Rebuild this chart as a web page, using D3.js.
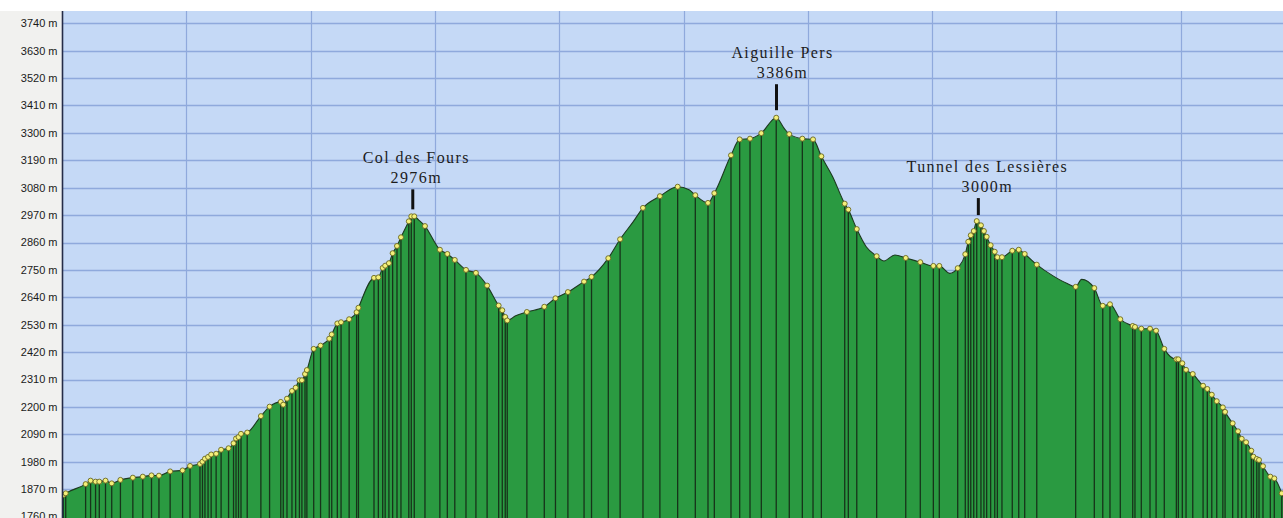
<!DOCTYPE html>
<html>
<head>
<meta charset="utf-8">
<script src="https://cdn.jsdelivr.net/npm/d3@7"></script>
<style>
  html, body { margin: 0; padding: 0; background: #ffffff; }
  svg { display: block; }
</style>
</head>
<body>
<div id="chart"></div>
<script>
// ---- DATA ----
// Waypoints (distance in km, elevation in m) – each one gets a marker and a drop line
const markerDist = [0.01,0.03,0.19,0.23,0.27,0.30,0.35,0.40,0.47,0.57,0.65,0.72,0.78,0.87,0.97,
  1.03,1.11,1.13,1.15,1.175,1.20,1.24,1.28,1.34,1.38,1.40,1.42,1.44,1.49,1.60,1.67,1.76,1.78,1.81,
  1.85,1.88,1.91,1.93,1.955,1.97,2.025,2.08,2.15,2.17,2.215,2.245,2.31,2.37,2.385,2.51,2.545,2.58,
  2.60,2.63,2.66,2.695,2.727,2.79,2.81,2.834,2.92,3.04,3.10,3.16,3.25,3.33,3.42,3.513,3.542,3.566,
  3.582,3.74,3.88,3.97,4.07,4.20,4.26,4.395,4.49,4.674,4.81,4.953,5.095,5.197,5.248,5.382,5.452,
  5.535,5.626,5.746,5.851,5.956,6.042,6.109,6.297,6.326,6.394,6.554,6.788,6.905,7.010,7.058,7.206,
  7.267,7.291,7.311,7.335,7.359,7.393,7.417,7.439,7.471,7.504,7.525,7.562,7.645,7.697,7.745,7.842,
  8.155,8.305,8.373,8.431,8.514,8.614,8.632,8.683,8.753,8.802,8.868,8.965,8.981,9.013,9.043,9.097,
  9.180,9.214,9.250,9.290,9.339,9.357,9.418,9.461,9.491,9.526,9.568,9.585,9.612,9.630,9.662,9.721,
  9.753,9.813];
const markerElev = [1846,1853,1890,1904,1900,1900,1904,1893,1907,1916,1920,1925,1924,1941,1945,
  1963,1971,1980,1992,1999,2009,2012,2028,2034,2054,2073,2079,2092,2097,2163,2201,2220,2209,2233,
  2264,2277,2307,2307,2332,2348,2433,2446,2474,2491,2535,2540,2552,2580,2598,2718,2720,2758,
  2767,2777,2817,2846,2881,2945,2965,2965,2926,2831,2814,2790,2750,2738,2687,2607,2588,2561,
  2547,2581,2602,2636,2661,2703,2722,2797,2873,2999,3046,3084,3050,3019,3058,3210,3274,
  3277,3299,3361,3295,3277,3274,3206,3016,2992,2914,2805,2798,2781,2766,2766,2757,
  2813,2863,2889,2906,2946,2929,2906,2883,2849,2823,2801,2801,2827,2831,2814,2771,
  2682,2677,2606,2612,2552,2525,2521,2514,2514,2506,2433,2391,2391,2375,2349,2332,
  2285,2272,2249,2223,2198,2180,2134,2102,2072,2058,2024,2000,1991,1987,1962,1920,
  1913,1853];
// Extra track points (no marker) that shape the profile between waypoints
const trackDist = [0, 2.87, 3.65, 4.596, 5.045, 5.81, 6.20, 6.47, 6.613, 6.701, 7.143, 7.973, 8.083, 8.203, 9.823];
const trackElev = [1842, 2950, 2566, 2944, 3072, 3318, 3124, 2843, 2786, 2810, 2736, 2726, 2696, 2712, 1838];
// Axis ticks (m)
const yTicks = [1760,1870,1980,2090,2200,2310,2420,2530,2640,2750,2860,2970,3080,3190,3300,3410,3520,3630,3740];
const xGrid = [1,2,3,4,5,6,7,8,9];
// Summit labels
const peakNames = ["Col des Fours", "Aiguille Pers", "Tunnel des Lessières"];
const peakElevLabels = ["2976m", "3386m", "3000m"];
const peakDist = [2.822, 5.748, 7.372];

// ---- LAYOUT / STYLE ----
const W = 1283, H = 518;
const plotLeft = 62, plotTop = 11;
const peakStyle = [ {dx: 3.5, tick: 20, gap: 7}, {dx: 6, tick: 26, gap: 7.5}, {dx: 9, tick: 17, gap: 6} ];

const svg = d3.select("#chart").append("svg").attr("width", W).attr("height", H);

const x = d3.scaleLinear().domain([0, 9.823]).range([plotLeft, W]);
const y = d3.scaleLinear().domain([1760, 3740]).range([516.5, 23.3]);

// backgrounds
svg.append("rect").attr("x", 0).attr("y", 0).attr("width", W).attr("height", H).attr("fill", "#ffffff");
svg.append("rect").attr("x", 0).attr("y", plotTop).attr("width", plotLeft).attr("height", H - plotTop).attr("fill", "#f1f1ef");
svg.append("rect").attr("x", plotLeft).attr("y", plotTop).attr("width", W - plotLeft).attr("height", H - plotTop).attr("fill", "#c5d9f6");

svg.append("defs").append("clipPath").attr("id", "plotClip")
  .append("rect").attr("x", plotLeft).attr("y", plotTop).attr("width", W - plotLeft).attr("height", H - plotTop);

const plot = svg.append("g").attr("clip-path", "url(#plotClip)");

// grid
plot.selectAll("line.hg").data(yTicks).join("line")
  .attr("x1", plotLeft).attr("x2", W)
  .attr("y1", d => Math.round(y(d)) + 0.5).attr("y2", d => Math.round(y(d)) + 0.5)
  .attr("stroke", "#8fa9dc").attr("stroke-width", 1.4);
plot.selectAll("line.vg").data(xGrid).join("line")
  .attr("x1", d => Math.round(x(d)) + 0.5).attr("x2", d => Math.round(x(d)) + 0.5)
  .attr("y1", plotTop).attr("y2", H)
  .attr("stroke", "#8fa9dc").attr("stroke-width", 1.2);

// profile
const markers = markerDist.map((d, i) => ({d, e: markerElev[i]}));
const track = markers.concat(trackDist.map((d, i) => ({d, e: trackElev[i]})))
  .sort((a, b) => a.d - b.d);

const area = d3.area().x(p => x(p.d)).y0(H).y1(p => y(p.e)).curve(d3.curveMonotoneX);
const line = d3.line().x(p => x(p.d)).y(p => y(p.e)).curve(d3.curveMonotoneX);

plot.append("path").datum(track).attr("d", area).attr("fill", "#2a9a41");

plot.selectAll("line.drop").data(markers).join("line")
  .attr("x1", p => x(p.d)).attr("x2", p => x(p.d))
  .attr("y1", p => y(p.e)).attr("y2", H)
  .attr("stroke", "#17331a").attr("stroke-width", 1.3);

plot.append("path").datum(track).attr("d", line)
  .attr("fill", "none").attr("stroke", "#1d3a1f").attr("stroke-width", 1.1);

plot.selectAll("circle.m").data(markers).join("circle")
  .attr("cx", p => x(p.d)).attr("cy", p => y(p.e)).attr("r", 2.5)
  .attr("fill", "#f3f07a").attr("stroke", "#6a6620").attr("stroke-width", 0.9);

// peak labels
peakNames.forEach((name, i) => {
  const px = x(peakDist[i]);
  const s = peakStyle[i];
  const pe = d3.max(markers.filter(p => Math.abs(p.d - peakDist[i]) < 0.05), p => p.e);
  const bottom = y(pe) - s.gap;
  const top = bottom - s.tick;
  svg.append("line").attr("x1", px).attr("x2", px).attr("y1", top).attr("y2", bottom)
    .attr("stroke", "#111111").attr("stroke-width", 3);
  const t = svg.append("text")
    .attr("text-anchor", "middle")
    .attr("font-family", "'Liberation Serif', 'Times New Roman', serif")
    .attr("font-size", 16).attr("letter-spacing", 1.4).attr("fill", "#1c1c1c");
  t.append("tspan").attr("x", px + s.dx).attr("y", top - 26.5).text(name);
  t.append("tspan").attr("x", px + s.dx).attr("y", top - 6.5).text(peakElevLabels[i]);
});

// left axis
svg.append("line").attr("x1", plotLeft + 0.5).attr("x2", plotLeft + 0.5).attr("y1", plotTop).attr("y2", H)
  .attr("stroke", "#252c48").attr("stroke-width", 1.6);
svg.selectAll("text.yt").data(yTicks).join("text")
  .attr("x", 57.5).attr("y", d => y(d)).attr("dy", "0.35em")
  .attr("text-anchor", "end")
  .attr("font-family", "'Liberation Sans', Arial, sans-serif").attr("font-size", 11)
  .attr("fill", "#1a1a1a")
  .text(d => d + " m");
</script>
</body>
</html>
